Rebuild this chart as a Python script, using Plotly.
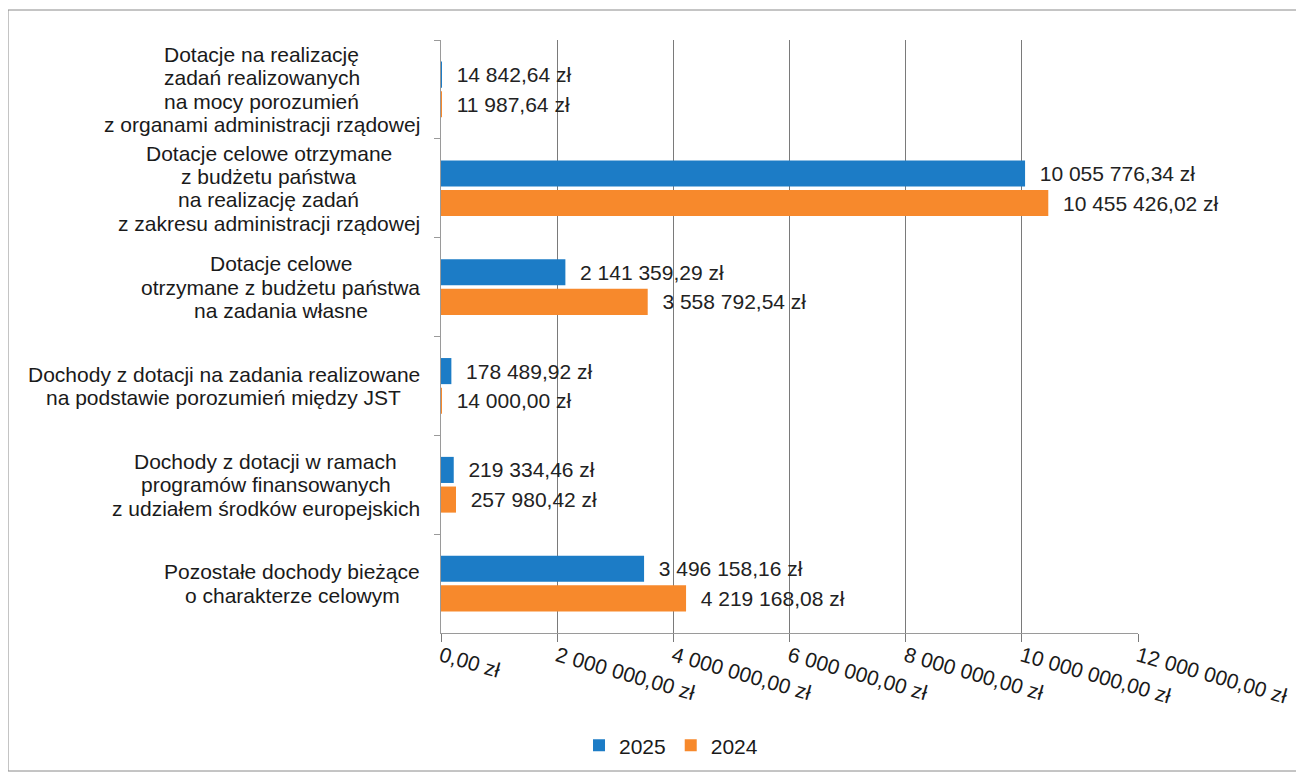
import plotly.graph_objects as go

# ---------------- data ----------------
categories = [
    "Dotacje na realizację<br>zadań realizowanych<br>na mocy porozumień<br>z organami administracji rządowej",
    "Dotacje celowe otrzymane<br>z budżetu państwa<br>na realizację zadań<br>z zakresu administracji rządowej",
    "Dotacje celowe<br>otrzymane z budżetu państwa<br>na zadania własne",
    "Dochody z dotacji na zadania realizowane<br>na podstawie porozumień między JST",
    "Dochody z dotacji w ramach<br>programów finansowanych<br>z udziałem środków europejskich",
    "Pozostałe dochody bieżące<br>o charakterze celowym",
]
values_2025 = [14842.64, 10055776.34, 2141359.29, 178489.92, 219334.46, 3496158.16]
values_2024 = [11987.64, 10455426.02, 3558792.54, 14000.00, 257980.42, 4219168.08]
series_names = ["2025", "2024"]
tick_values = [0, 2000000, 4000000, 6000000, 8000000, 10000000, 12000000]
tick_labels = ["0,00 zł", "2 000 000,00 zł", "4 000 000,00 zł", "6 000 000,00 zł",
               "8 000 000,00 zł", "10 000 000,00 zł", "12 000 000,00 zł"]

# ---------------- style ----------------
FONT = "Liberation Sans, Arial, sans-serif"
FS = 21
BLUE = "#1c7cc6"
ORANGE = "#f7892c"
OFF = 8  # page body margin
W, H = 1304 - OFF, 773 - OFF
L, T = 441 - OFF, 40 - OFF
PW, PH = 697, 593
R, B = W - L - PW, H - T - PH


def fmt(v):
    s = f"{v:,.2f}"
    ip, dp = s.split(".")
    return "\u00a0\u00a0" + ip.replace(",", " ") + "," + dp + " zł"


# Arial / Liberation Sans advance widths (per 1000 em)
WID = {' ': 278, 'a': 556, 'b': 556, 'c': 500, 'd': 556, 'e': 556, 'f': 278, 'g': 556,
       'h': 556, 'i': 222, 'j': 222, 'k': 500, 'l': 222, 'm': 833, 'n': 556, 'o': 556,
       'p': 556, 'q': 556, 'r': 333, 's': 500, 't': 278, 'u': 556, 'v': 500, 'w': 722,
       'x': 500, 'y': 500, 'z': 500, 'D': 722, 'J': 500, 'S': 667, 'T': 611, 'P': 667,
       'ł': 222, 'ę': 556, 'ą': 556, 'ń': 556, 'ż': 500, 'ś': 500, 'ó': 556, 'ć': 500,
       'ź': 500, ',': 278}


def text_width(s, size):
    return sum(WID.get(ch, 556) for ch in s) * size / 1000.0


fig = go.Figure()
for name, vals, col in [(series_names[0], values_2025, BLUE), (series_names[1], values_2024, ORANGE)]:
    fig.add_trace(go.Bar(
        y=list(range(len(categories))), x=vals, name=name, orientation="h",
        marker=dict(color=col, line=dict(width=0)),
        text=[fmt(v) for v in vals], textposition="outside",
        textfont=dict(family=FONT, size=FS, color="#222222"),
        constraintext="none", cliponaxis=False, hoverinfo="skip",
    ))

# category labels: centred multi-line blocks, right edge near the axis
annotations = []
RIGHT_EDGE = 420 - OFF
LINE_H = 23.3
for i, cat in enumerate(categories):
    lines = cat.split("<br>")
    maxw = max(text_width(s, FS) for s in lines)
    cx = (RIGHT_EDGE - maxw / 2 - L) / PW
    n = len(lines)
    for j, line in enumerate(lines):
        annotations.append(dict(
            x=cx, xref="paper", y=i, yref="y", text=line, showarrow=False,
            xanchor="center", yanchor="middle",
            yshift=((n - 1) / 2 - j) * LINE_H,
            font=dict(family=FONT, size=FS, color="#1a1a1a"),
        ))

fig.update_layout(
    width=W, height=H,
    margin=dict(l=L, r=R, t=T, b=B, autoexpand=False),
    paper_bgcolor="white", plot_bgcolor="white",
    barmode="group", bargap=0.4, bargroupgap=0.12,
    font=dict(family=FONT, size=FS, color="#1a1a1a"),
    showlegend=True,
    legend=dict(orientation="h", x=0.33, xanchor="center", y=-0.19, yanchor="middle",
                font=dict(family=FONT, size=FS, color="#1a1a1a"), traceorder="normal",
                itemwidth=30, bgcolor="rgba(0,0,0,0)"),
    annotations=annotations,
    shapes=[dict(type="rect", xref="paper", yref="paper",
                 x0=(8 - 441) / PW, x1=(1298 - 441) / PW,
                 y0=(633 - 771) / PH, y1=(633 - 10) / PH,
                 line=dict(color="#8a8a8a", width=1), fillcolor="rgba(0,0,0,0)", layer="below")],
)

fig.update_xaxes(
    range=[0, 12000000], tickvals=tick_values, ticktext=tick_labels, tickangle=16,
    showgrid=True, gridcolor="#7a7a7a", gridwidth=1, zeroline=False,
    showline=True, linecolor="#9a9a9a", linewidth=1,
    ticks="outside", ticklen=8, tickcolor="#7a7a7a", ticklabelstandoff=-6,
    tickfont=dict(family=FONT, size=FS, color="#1a1a1a"),
)
fig.update_yaxes(
    type="category", autorange="reversed",
    showticklabels=False, showgrid=False, zeroline=False,
    showline=True, linecolor="#9a9a9a", linewidth=1,
    ticks="outside", ticklen=6, tickcolor="#9a9a9a", tickson="boundaries",
)

fig.write_html("out.html")
